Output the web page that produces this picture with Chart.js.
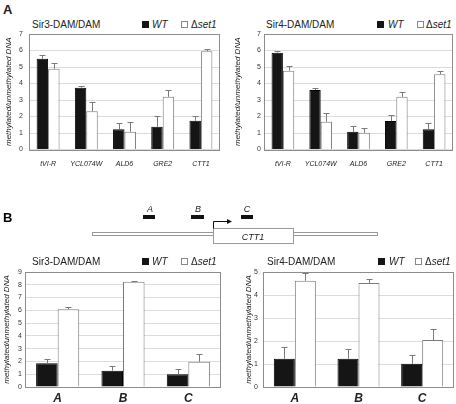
<!DOCTYPE html>
<html>
<head>
<meta charset="utf-8">
<script src="https://cdn.jsdelivr.net/npm/chart.js@4"></script>
<style>
  body { margin: 0; background: #fff; font-family: "Liberation Sans", Arial, sans-serif; }
  #fig { position: relative; width: 456px; height: 404px; overflow: hidden; }
  .box { position: absolute; }
  .txt { position: absolute; font-size: 10px; line-height: 10px; color: #222; white-space: nowrap; }
  .it { font-style: italic; }
  .sq { position: absolute; width: 7px; height: 7px; box-sizing: border-box; }
  .sq.wt { background: #151515; }
  .sq.ko { background: #fff; border: 1px solid #888; }
</style>
</head>
<body>
<div id="fig">
  <div class="txt" style="left:3px;top:3px;font-size:13px;line-height:13px;font-weight:bold;">A</div>

  <!-- panel A titles / legends -->
  <div class="txt" style="left:32px;top:20px;">Sir3-DAM/DAM</div>
  <div class="sq wt" style="left:142px;top:21px;"></div><div class="txt it" style="left:152px;top:20px;">WT</div>
  <div class="sq ko" style="left:181px;top:21px;"></div><div class="txt" style="left:191px;top:20px;">Δ<i>set1</i></div>

  <div class="txt" style="left:266px;top:20px;">Sir4-DAM/DAM</div>
  <div class="sq wt" style="left:377px;top:21px;"></div><div class="txt it" style="left:388px;top:20px;">WT</div>
  <div class="sq ko" style="left:417px;top:21px;"></div><div class="txt" style="left:426px;top:20px;">Δ<i>set1</i></div>

  <div class="box" style="left:0;top:20px;"><canvas id="a3" width="228" height="160"></canvas></div>
  <div class="box" style="left:228px;top:20px;"><canvas id="a4" width="228" height="160"></canvas></div>

  <!-- schematic of CTT1 -->
  <svg class="box" style="left:0;top:0;" width="456" height="404">
    <text x="3" y="222" font-size="13" font-weight="bold" font-family="Liberation Sans, Arial">B</text>
    <g font-size="9" font-style="italic" font-family="Liberation Sans, Arial" text-anchor="middle" fill="#222">
      <text x="150" y="212">A</text>
      <text x="198" y="212">B</text>
      <text x="247" y="212">C</text>
    </g>
    <rect x="143" y="215" width="12" height="4" fill="#111"/>
    <rect x="191" y="215" width="13" height="4" fill="#111"/>
    <rect x="241" y="215" width="12" height="4" fill="#111"/>
    <rect x="92.5" y="232.5" width="285" height="3" fill="#fff" stroke="#999" stroke-width="1"/>
    <rect x="213.5" y="228.5" width="80" height="15" fill="#fff" stroke="#999" stroke-width="1"/>
    <text x="253" y="239.5" font-size="9" font-style="italic" font-family="Liberation Sans, Arial" text-anchor="middle" fill="#222">CTT1</text>
    <path d="M213.5 228.5 V221.5 H228" fill="none" stroke="#111" stroke-width="1"/>
    <polygon points="227,219 232,221.5 227,224" fill="#111"/>
  </svg>

  <!-- panel B titles / legends -->
  <div class="txt" style="left:32px;top:257px;">Sir3-DAM/DAM</div>
  <div class="sq wt" style="left:142px;top:258px;"></div><div class="txt it" style="left:152px;top:257px;">WT</div>
  <div class="sq ko" style="left:181px;top:258px;"></div><div class="txt" style="left:191px;top:257px;">Δ<i>set1</i></div>

  <div class="txt" style="left:267px;top:257px;">Sir4-DAM/DAM</div>
  <div class="sq wt" style="left:378px;top:258px;"></div><div class="txt it" style="left:389px;top:257px;">WT</div>
  <div class="sq ko" style="left:415px;top:258px;"></div><div class="txt" style="left:425px;top:257px;">Δ<i>set1</i></div>

  <div class="box" style="left:0;top:250px;"><canvas id="b3" width="228" height="154"></canvas></div>
  <div class="box" style="left:228px;top:250px;"><canvas id="b4" width="228" height="154"></canvas></div>
</div>

<script>
// panel A: loci
const loci = ['tVI-R', 'YCL074W', 'ALD6', 'GRE2', 'CTT1'];
const sir3WT = [5.50, 3.75, 1.22, 1.38, 1.74];
const sir3WTErr = [0.20, 0.08, 0.40, 0.64, 0.28];
const sir3Set1 = [4.90, 2.32, 1.07, 3.19, 5.96];
const sir3Set1Err = [0.34, 0.56, 0.61, 0.44, 0.15];
const sir4WT = [5.87, 3.61, 1.07, 1.72, 1.22];
const sir4WTErr = [0.12, 0.12, 0.35, 0.36, 0.36];
const sir4Set1 = [4.78, 1.68, 1.01, 3.19, 4.56];
const sir4Set1Err = [0.28, 0.56, 0.31, 0.30, 0.18];

// panel B: regions of CTT1
const regions = ['A', 'B', 'C'];
const ctt1Sir3WT = [1.85, 1.28, 0.99];
const ctt1Sir3WTErr = [0.32, 0.36, 0.39];
const ctt1Sir3Set1 = [6.08, 8.24, 1.98];
const ctt1Sir3Set1Err = [0.16, 0.08, 0.58];
const ctt1Sir4WT = [1.23, 1.23, 1.01];
const ctt1Sir4WTErr = [0.50, 0.41, 0.38];
const ctt1Sir4Set1 = [4.62, 4.52, 2.04];
const ctt1Sir4Set1Err = [0.35, 0.18, 0.49];

const yMaxA = 7;
const yMaxB3 = 9;
const yMaxB4 = 5;

Chart.defaults.font.family = '"Liberation Sans", Arial, sans-serif';
Chart.defaults.color = '#333';

// frame around plot area + upward error bars
const frameAndErrors = {
  id: 'frameAndErrors',
  afterDatasetsDraw(chart) {
    const { ctx, chartArea: a } = chart;
    const y = chart.scales.y;
    ctx.save();
    ctx.strokeStyle = '#7a7a7a';
    ctx.lineWidth = 1;
    ctx.beginPath();
    chart.data.datasets.forEach((ds, i) => {
      chart.getDatasetMeta(i).data.forEach((bar, j) => {
        const top = Math.round(y.getPixelForValue(ds.data[j] + ds.err[j])) + 0.5;
        const x = Math.round(bar.x) + 0.5;
        ctx.moveTo(x, bar.y);
        ctx.lineTo(x, top);
        ctx.moveTo(x - 3, top);
        ctx.lineTo(x + 3, top);
      });
    });
    ctx.stroke();
    ctx.strokeStyle = '#8c8c8c';
    ctx.strokeRect(Math.round(a.left) + 0.5, Math.round(a.top) + 0.5,
      Math.round(a.right - a.left) - 1, Math.round(a.bottom - a.top));
    ctx.restore();
  }
};

function makeChart(id, labels, wt, wtErr, ko, koErr, yMax, g) {
  return new Chart(document.getElementById(id), {
    type: 'bar',
    data: {
      labels: labels,
      datasets: [
        { label: 'WT', data: wt, err: wtErr, backgroundColor: '#151515', borderColor: '#000',
          borderWidth: 1, categoryPercentage: g.cat, barPercentage: 1 },
        { label: 'Δset1', data: ko, err: koErr, backgroundColor: '#fff', borderColor: '#7a7a7a',
          borderWidth: 1, categoryPercentage: g.cat, barPercentage: 1 }
      ]
    },
    options: {
      responsive: false,
      animation: false,
      layout: { padding: { top: g.top, right: g.right, left: 0, bottom: 0 } },
      plugins: { legend: { display: false }, tooltip: { enabled: false } },
      scales: {
        x: {
          grid: { display: false, drawTicks: false },
          border: { display: false },
          ticks: { font: g.xFont, color: '#222', padding: g.xPad, maxRotation: 0, autoSkip: false },
          afterFit(s) { s.height = g.xh; }
        },
        y: {
          min: 0,
          max: yMax,
          grid: { color: '#dcdcdc', drawTicks: false },
          border: { display: false },
          ticks: { stepSize: 1, font: { size: 7 }, color: '#333', padding: g.yPad },
          title: { display: true, text: 'methylated/unmethylated DNA', color: '#222',
            font: { size: 8, style: 'italic' }, padding: { top: g.tPad, bottom: 0 } },
          afterFit(s) { s.width = g.yw; }
        }
      }
    },
    plugins: [frameAndErrors]
  });
}

const smallX = { size: 7, style: 'italic' };
const bigX = { size: 12, style: 'italic', weight: 'bold' };

makeChart('a3', loci, sir3WT, sir3WTErr, sir3Set1, sir3Set1Err, yMaxA,
  { cat: 0.6, top: 14, right: 8, yw: 29, xh: 30.5, xPad: 10, xFont: smallX, yPad: 6, tPad: 4 });
makeChart('a4', loci, sir4WT, sir4WTErr, sir4Set1, sir4Set1Err, yMaxA,
  { cat: 0.6, top: 14, right: 3, yw: 36, xh: 30.5, xPad: 10, xFont: smallX, yPad: 3, tPad: 5 });
makeChart('b3', regions, ctt1Sir3WT, ctt1Sir3WTErr, ctt1Sir3Set1, ctt1Sir3Set1Err, yMaxB3,
  { cat: 0.66, top: 22, right: 7, yw: 25, xh: 17, xPad: 4, xFont: bigX, yPad: 3, tPad: 2 });
makeChart('b4', regions, ctt1Sir4WT, ctt1Sir4WTErr, ctt1Sir4Set1, ctt1Sir4Set1Err, yMaxB4,
  { cat: 0.66, top: 22, right: 2, yw: 35, xh: 17, xPad: 4, xFont: bigX, yPad: 5, tPad: 16 });
</script>
</body>
</html>
